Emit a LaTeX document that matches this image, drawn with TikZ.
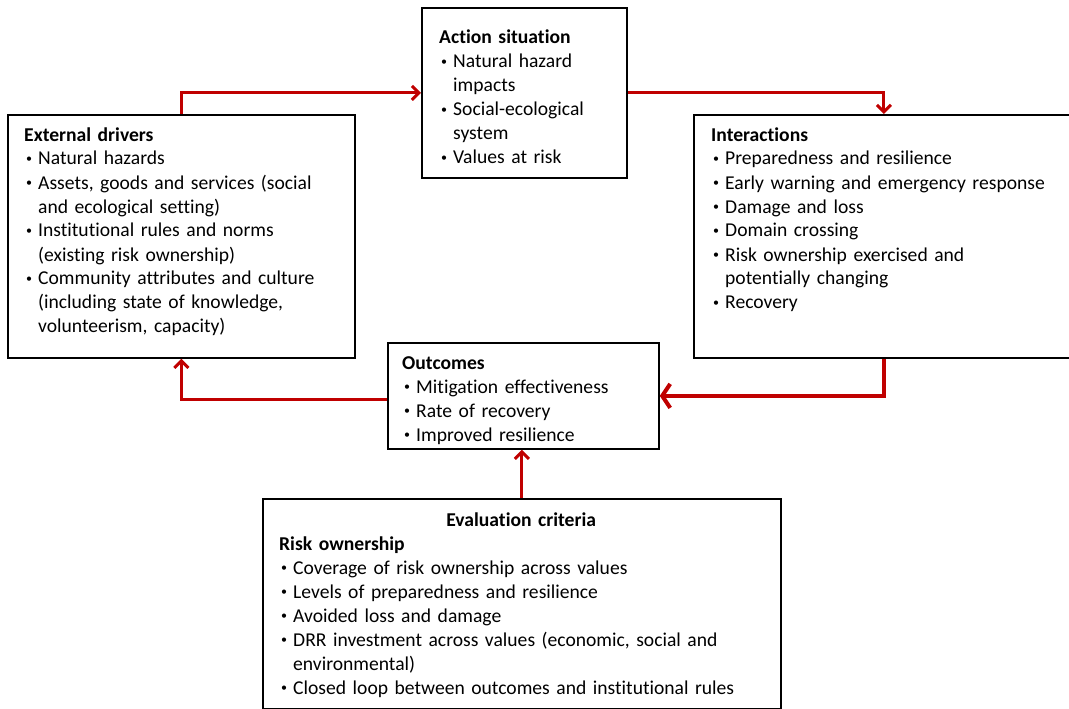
\documentclass[tikz,border=0pt]{standalone}
\usepackage{fontspec}
\setmainfont{Carlito}[Ligatures={NoCommon, NoContextual}]
\usepackage{xcolor}
\definecolor{arrowred}{RGB}{192,0,0}
\usepackage{tikz}
\usetikzlibrary{arrows.meta}
\newcommand{\bul}{\makebox[14pt][l]{\hspace{2pt}\raisebox{2.2pt}{\fontsize{12}{12}\selectfont\textbullet}}}
\newcommand{\ind}{\makebox[14pt]{}}
\tikzset{
  panel/.style={
    draw=black, line width=1.8pt, inner sep=0pt, anchor=north west
  },
  listtext/.style={
    anchor=base west, inner sep=0pt, align=left,
    font=\fontsize{19.6}{24}\selectfont
  },
  arrow/.style={line width=3pt, color=arrowred, -{Straight Barb[length=7pt, width=14pt]}},
  widearrow/.style={line width=4pt, color=arrowred, -{Straight Barb[length=8pt, width=24pt]}},
}

\begin{document}
\begin{tikzpicture}[x=1pt, y=-1pt]
  \useasboundingbox (0,0) rectangle (1069,709);

  \node (ext) [panel, minimum width=347pt, minimum height=243pt] at (7,114)   {};
  \node (act) [panel, minimum width=205pt, minimum height=170pt] at (421,7)   {};
  \node (int) [panel, minimum width=380pt, minimum height=243pt] at (693,114) {};
  \node (out) [panel, minimum width=271pt, minimum height=106pt] at (387,342) {};
  \node (eva) [panel, minimum width=518pt, minimum height=210pt] at (262,498) {};

  \node (ext-list) [listtext, text width=330pt] at (24,141) {%
    \textbf{External drivers}\\
    \bul Natural hazards\\
    \bul Assets, goods and services (social\\
    \ind and ecological setting)\\
    \bul Institutional rules and norms\\
    \ind (existing risk ownership)\\
    \bul Community attributes and culture\\
    \ind (including state of knowledge,\\
    \ind volunteerism, capacity)};
  \node (act-list) [listtext, text width=180pt] at (439,44) {%
    \textbf{Action situation}\\
    \bul Natural hazard\\
    \ind impacts\\
    \bul Social-ecological\\
    \ind system\\
    \bul Values at risk};
  \node (int-list) [listtext, text width=350pt] at (711,141) {%
    \textbf{Interactions}\\
    \bul Preparedness and resilience\\
    \bul Early warning and emergency response\\
    \bul Damage and loss\\
    \bul Domain crossing\\
    \bul Risk ownership exercised and\\
    \ind potentially changing\\
    \bul Recovery};
  \node (out-list) [listtext, text width=250pt] at (402,369) {%
    \textbf{Outcomes}\\
    \bul Mitigation effectiveness\\
    \bul Rate of recovery\\
    \bul Improved resilience};
  \node (eva-list) [listtext, text width=484pt] at (279,526) {%
    \makebox[\linewidth]{\textbf{Evaluation criteria}}\\
    \textbf{Risk ownership}\\
    \bul Coverage of risk ownership across values\\
    \bul Levels of preparedness and resilience\\
    \bul Avoided loss and damage\\
    \bul DRR investment across values (economic, social and\\
    \ind environmental)\\
    \bul Closed loop between outcomes and institutional rules};

  \draw [arrow]     (ext.north) |- (act.west);
  \draw [arrow]     (act.east)  -| (int.north);
  \draw [widearrow] (int.south) |- (out.east);
  \draw [arrow]     ([yshift=-4pt]out.west) -| (ext.south);
  \draw [arrow]     (eva.north) -- (eva.north |- out.south);
\end{tikzpicture}
\end{document}
